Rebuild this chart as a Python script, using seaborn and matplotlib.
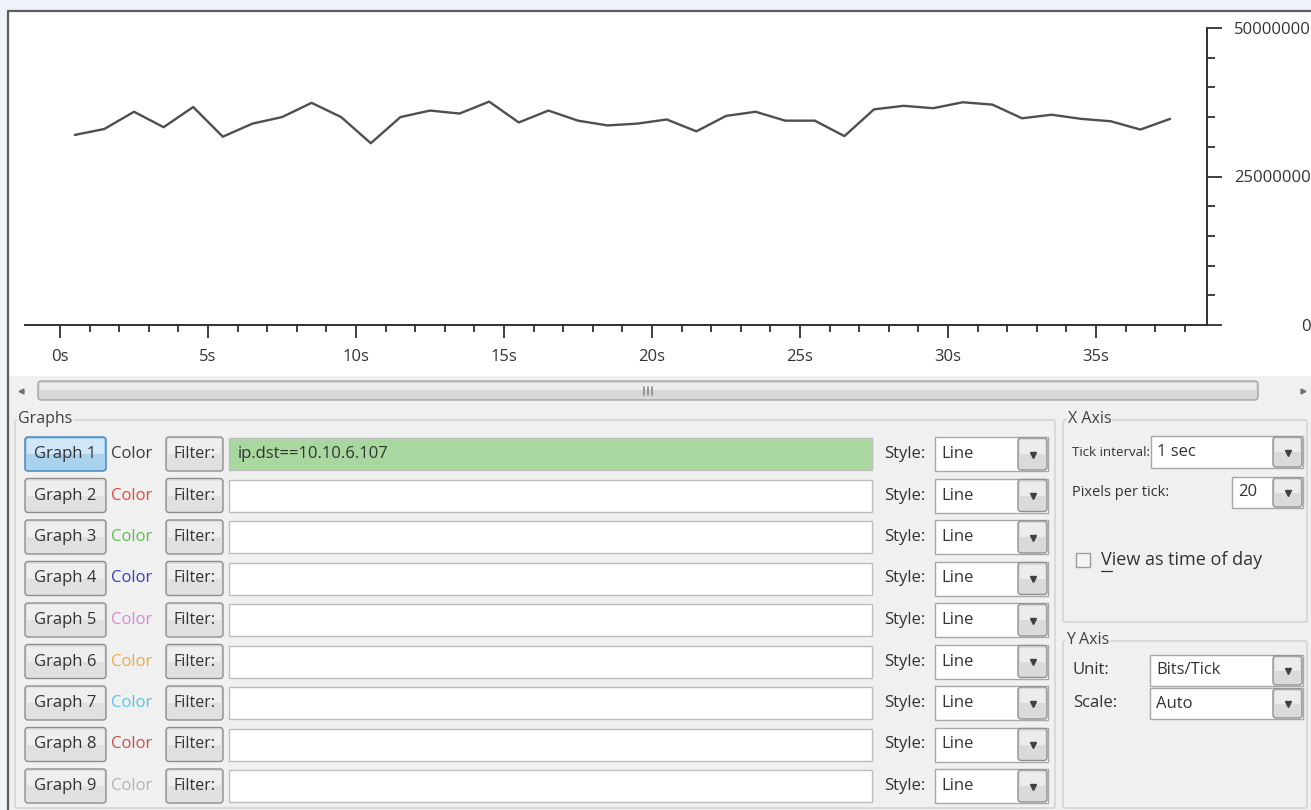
import matplotlib
matplotlib.use("Agg")
import matplotlib.pyplot as plt
from matplotlib.patches import Rectangle, FancyBboxPatch
from matplotlib.ticker import FixedLocator
import seaborn as sns

# ─────────────────────────────────────────────
# DATA
# ─────────────────────────────────────────────
TIME_S = [0.5, 1.5, 2.5, 3.5, 4.5, 5.5, 6.5, 7.5, 8.5, 9.5,
          10.5, 11.5, 12.5, 13.5, 14.5, 15.5, 16.5, 17.5, 18.5, 19.5,
          20.5, 21.5, 22.5, 23.5, 24.5, 25.5, 26.5, 27.5, 28.5, 29.5,
          30.5, 31.5, 32.5, 33.5, 34.5, 35.5, 36.5, 37.5]
BITS_MBIT = [32.0, 33.0, 35.9, 33.3, 36.7, 31.7, 33.9, 35.0, 37.4, 35.0,
             30.6, 35.0, 36.1, 35.6, 37.6, 34.1, 36.1, 34.4, 33.6, 33.9,
             34.6, 32.6, 35.2, 35.9, 34.4, 34.4, 31.8, 36.3, 36.9, 36.5,
             37.5, 37.1, 34.8, 35.4, 34.7, 34.3, 32.9, 34.7]

X_MAJOR = [0, 5, 10, 15, 20, 25, 30, 35]
X_LABELS = ["0s", "5s", "10s", "15s", "20s", "25s", "30s", "35s"]
X_MINOR = [1, 2, 3, 4, 6, 7, 8, 9, 11, 12, 13, 14, 16, 17, 18, 19, 21, 22,
           23, 24, 26, 27, 28, 29, 31, 32, 33, 34, 36, 37, 38]
Y_MAJOR = [0, 25000000, 50000000]
Y_LABELS = ["0", "25000000", "50000000"]
Y_MINOR = [5000000, 10000000, 15000000, 20000000,
           30000000, 35000000, 40000000, 45000000]

GRAPH_NAMES = ["Graph 1", "Graph 2", "Graph 3", "Graph 4", "Graph 5",
               "Graph 6", "Graph 7", "Graph 8", "Graph 9"]
COLOR_LABELS = ["#3a3a3a", "#e8483e", "#5cc04a", "#3e3eb6", "#dc86d4",
                "#f0aa3c", "#52c6ec", "#c4524c", "#b4b4b4"]
FILTERS = ["ip.dst==10.10.6.107", "", "", "", "", "", "", "", ""]
STYLES = ["Line", "Line", "Line", "Line", "Line", "Line", "Line", "Line", "Line"]

# ─────────────────────────────────────────────
# SETUP
# ─────────────────────────────────────────────
W, H = 1311, 810
sns.set_style("white")
plt.rcParams["font.family"] = ["Open Sans", "DejaVu Sans"]
TXT = "#333333"
FS = 12

fig = plt.figure(figsize=(W / 100, H / 100), dpi=100)
bg = fig.add_axes([0, 0, 1, 1])
bg.set_xlim(0, W)
bg.set_ylim(H, 0)
bg.axis("off")


def rect(x0, y0, x1, y1, face, edge="none", lw=1.0, z=1, rnd=0):
    if rnd:
        p = FancyBboxPatch((x0, y0), x1 - x0, y1 - y0,
                           boxstyle=f"round,pad=0,rounding_size={rnd}",
                           facecolor=face, edgecolor=edge, linewidth=lw, zorder=z)
    else:
        p = Rectangle((x0, y0), x1 - x0, y1 - y0, facecolor=face,
                      edgecolor=edge, linewidth=lw, zorder=z)
    bg.add_patch(p)


def button(x0, y0, x1, y1, face="#e0e0e0", top="#eeeeee", edge="#8e8e8e"):
    rect(x0, y0, x1, y1, face, edge, 1.0, z=3, rnd=3)
    rect(x0 + 2, y0 + 2, x1 - 2, (y0 + y1) / 2, top, z=3)


def combo(x0, y0, x1, y1, text, btn_w=30):
    rect(x0, y0, x1, y1, "white", "#a8a8a8", 1.0, z=3)
    button(x1 - btn_w, y0 + 1, x1 - 1, y1 - 1, "#dadada", "#ececec", "#909090")
    bg.plot([x1 - btn_w / 2 - 0.5], [(y0 + y1) / 2 + 0.5], marker="v",
            ms=4.5, color="#404040", zorder=5)
    bg.text(x0 + 6, (y0 + y1) / 2, text, fontsize=FS, color=TXT,
            va="center", ha="left", zorder=5)


def group(x0, y0, x1, y1, label, lx):
    rect(x0, y0, x1, y1, "none", "#cfcfcf", 1.0, z=2, rnd=2)
    bg.text(lx, y0 - 1, label, fontsize=FS - 0.5, color="#404040", va="center",
            ha="left", zorder=3,
            bbox=dict(facecolor="#f0f0f0", edgecolor="none", pad=0.5))


# page + window frame
rect(0, 0, W, H, "#eef3f9", z=0)
rect(8, 11, W, H, "#f0f0f0", z=0)
rect(9, 12, W, 376, "white", z=0)
bg.plot([8, W], [11, 11], color="#5e5e5e", lw=1.6, zorder=1)
bg.plot([8, 8], [11, H], color="#5e5e5e", lw=1.6, zorder=1)

# scrollbar
rect(14, 378, 1308, 403, "#f0f0f0", z=1)
rect(38, 381, 1258, 400, "#d8d8d8", "#a4a4a4", 1.0, z=2, rnd=3)
rect(40, 383, 1256, 390, "#ececec", z=2)
bg.plot([21], [391], marker="<", ms=3.5, color="#707070", zorder=3)
bg.plot([1303], [391], marker=">", ms=3.5, color="#707070", zorder=3)
for gx in [644, 648, 652]:
    bg.plot([gx, gx], [387, 395], color="#8a8a8a", lw=1.2, zorder=3)

# ─────────────────────────────────────────────
# GRAPHS PANEL
# ─────────────────────────────────────────────
group(15, 420, 1055, 808, "Graphs", 18)
for i, name in enumerate(GRAPH_NAMES):
    cy = 454 + i * 41.5
    if i == 0:
        button(25, cy - 17, 106, cy + 17, "#a9d2ef", "#cfe7f8", "#3c7fb6")
    else:
        button(25, cy - 17, 106, cy + 17)
    bg.text(65.5, cy, name, fontsize=FS, color=TXT, ha="center", va="center", zorder=5)
    bg.text(111, cy, "Color", fontsize=FS, color=COLOR_LABELS[i], ha="left",
            va="center", zorder=5)
    button(166, cy - 17, 223, cy + 17)
    bg.text(194.5, cy, "Filter:", fontsize=FS - 0.5, color=TXT, ha="center",
            va="center", zorder=5)
    face = "#a8d8a0" if FILTERS[i] else "white"
    rect(229, cy - 16, 872, cy + 16, face, "#bdbdbd", 1.0, z=3)
    bg.text(238, cy, FILTERS[i], fontsize=FS, color=TXT, ha="left",
            va="center", zorder=5)
    bg.text(884, cy, "Style:", fontsize=FS, color=TXT, ha="left", va="center", zorder=5)
    combo(935, cy - 17, 1048, cy + 17, STYLES[i])

# X axis panel
group(1063, 420, 1307, 622, "X Axis", 1068)
bg.text(1072, 452, "Tick interval:", fontsize=9.6, color=TXT, ha="left",
        va="center", zorder=2)
combo(1151, 436, 1303, 468, "1 sec")
bg.text(1072, 492, "Pixels per tick:", fontsize=10.5, color=TXT, ha="left",
        va="center", zorder=2)
combo(1232, 477, 1303, 508, "20")
rect(1076, 553, 1090, 567, "#f4f4f4", "#9c9c9c", 1.0, z=3)
bg.text(1101, 560, "View as time of day", fontsize=13, color=TXT, ha="left",
        va="center", zorder=5)
bg.plot([1101, 1112], [571, 571], color=TXT, lw=0.9, zorder=5)

# Y axis panel
group(1063, 641, 1307, 808, "Y Axis", 1066)
bg.text(1073, 670, "Unit:", fontsize=FS, color=TXT, ha="left", va="center", zorder=5)
combo(1150, 655, 1303, 686, "Bits/Tick")
bg.text(1073, 703, "Scale:", fontsize=FS, color=TXT, ha="left", va="center", zorder=5)
combo(1150, 688, 1303, 719, "Auto")

# ─────────────────────────────────────────────
# IO GRAPH
# ─────────────────────────────────────────────
x_left, x_right, y_top, y_bot = 25, 1207, 28, 325
px_per_s, x0_px = 29.6, 60
ax = fig.add_axes([x_left / W, 1 - y_bot / H, (x_right - x_left) / W, (y_bot - y_top) / H])
ax.set_facecolor("none")
ax.set_zorder(10)

bits = [v * 1e6 for v in BITS_MBIT]
sns.lineplot(x=TIME_S, y=bits, ax=ax, color="#4f4f4f", linewidth=1.7)

ax.set_xlim((x_left - x0_px) / px_per_s, (x_right - x0_px) / px_per_s)
ax.set_ylim(0, 50000000)
ax.set_xlabel("")
ax.set_ylabel("")
for side in ["left", "top"]:
    ax.spines[side].set_visible(False)
for side in ["bottom", "right"]:
    ax.spines[side].set_color("#303030")
    ax.spines[side].set_linewidth(1.4)

ax.xaxis.set_major_locator(FixedLocator(X_MAJOR))
ax.xaxis.set_minor_locator(FixedLocator(X_MINOR))
ax.set_xticklabels(X_LABELS)
ax.yaxis.tick_right()
ax.yaxis.set_major_locator(FixedLocator(Y_MAJOR))
ax.yaxis.set_minor_locator(FixedLocator(Y_MINOR))
ax.set_yticklabels(Y_LABELS)

ax.tick_params(axis="x", which="both", bottom=True, top=False)
ax.tick_params(axis="x", which="major", direction="out", length=9.5, width=1.3,
               color="#303030", pad=7.5, labelsize=FS, labelcolor=TXT)
ax.tick_params(axis="x", which="minor", direction="out", length=5, width=1.3,
               color="#303030")
ax.tick_params(axis="y", which="both", right=True, left=False)
ax.tick_params(axis="y", which="major", direction="out", length=11, width=1.3,
               color="#303030", pad=64, labelsize=FS, labelcolor=TXT)
ax.tick_params(axis="y", which="minor", direction="out", length=5.5, width=1.3,
               color="#303030")
for lab in ax.get_yticklabels():
    lab.set_horizontalalignment("right")

fig.savefig("out.png", dpi=100)
